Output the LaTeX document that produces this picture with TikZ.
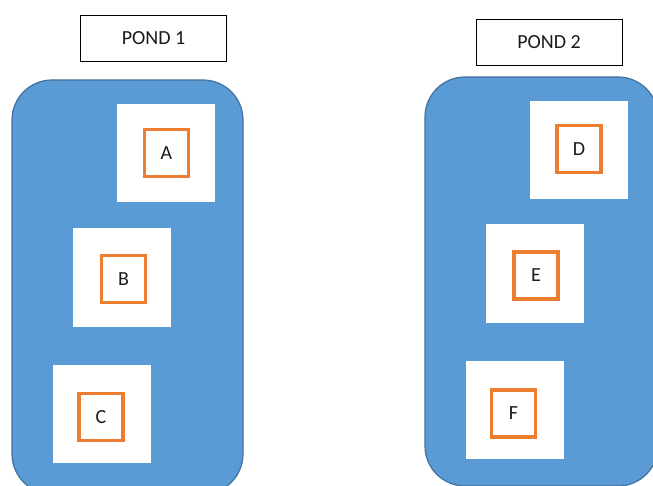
\documentclass[tikz,border=0pt]{standalone}
\usepackage{fontspec}
\setmainfont{Carlito}
\definecolor{pondfill}{HTML}{5B9BD5}
\definecolor{pondline}{HTML}{41719C}
\definecolor{tagline}{HTML}{ED7D31}
\definecolor{inkgray}{HTML}{1A1A1A}
\begin{document}
\begin{tikzpicture}[x=1pt,y=-1pt,
  pond/.style={fill=pondfill,draw=pondline,line width=1.2pt,rounded corners=40pt},
  title/.style={draw=black,line width=0.9pt,fill=white,minimum width=146pt,minimum height=46pt,inner sep=0pt,font=\fontsize{20}{22}\selectfont,text=inkgray},
  site/.style={fill=white,minimum width=98pt,minimum height=98pt,inner sep=0pt},
  tag/.style={draw=tagline,line width=3.2pt,fill=white,minimum width=44pt,minimum height=47pt,inner sep=0pt,font=\fontsize{20}{22}\selectfont,text=inkgray}]
\useasboundingbox (0,0) rectangle (653,486);
\clip (0,0) rectangle (653,486);
% ponds
\draw[pond] (12,80) rectangle (243,494);
\draw[pond] (425,77) rectangle (658,486);
% titles
\node[title] (p1) at (153.5,38) {POND 1};
\node[title] (p2) at (549,42.5) {POND 2};
% white sites
\node[site] (sa) at (166,153.5) {};
\node[site] (sb) at (122,277.5) {};
\node[site] (sc) at (102,413.5) {};
\node[site] (sd) at (579,150) {};
\node[site] (se) at (535,273.5) {};
\node[site] (sf) at (514.5,409.5) {};
% labelled tags
\node[tag] (a) at (166.5,153) {A};
\node[tag] (b) at (123.5,279) {B};
\node[tag] (c) at (101,417) {C};
\node[tag] (d) at (579,149) {D};
\node[tag] (e) at (536,275.5) {E};
\node[tag] (f) at (513.5,413.5) {F};
\end{tikzpicture}
\end{document}
